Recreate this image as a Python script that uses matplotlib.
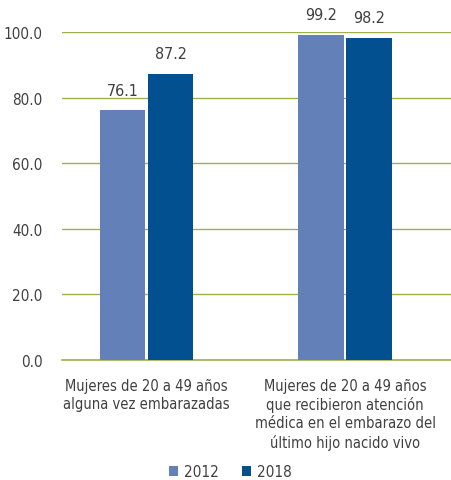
import matplotlib
matplotlib.use("Agg")
import matplotlib.pyplot as plt
import numpy as np

plt.rcParams['font.family'] = ['DejaVu Sans']
plt.rcParams['font.stretch'] = 'condensed'

categories = ["Mujeres de 20 a 49 años\nalguna vez embarazadas",
              "Mujeres de 20 a 49 años\nque recibieron atención\nmédica en el embarazo del\núltimo hijo nacido vivo"]
years = ["2012", "2018"]
v2012 = [76.1, 99.2]
v2018 = [87.2, 98.2]
yticks = [0, 20, 40, 60, 80, 100]

c2012 = '#6381B8'
c2018 = '#02508F'
grid_c = '#9DB24A'
txt_c = '#404040'

fig = plt.figure(figsize=(4.52, 4.81), dpi=100)
ax = fig.add_axes([0.137, 0.2495, 0.863, 0.682])

x = np.arange(len(categories))
w = 0.227
off = 0.121
b1 = ax.bar(x - off, v2012, w, color=c2012, label=years[0], zorder=2)
b2 = ax.bar(x + off, v2018, w, color=c2018, label=years[1], zorder=2)

for bars, vals in ((b1, v2012), (b2, v2018)):
    for r, v in zip(bars, vals):
        ax.annotate(f"{v:.1f}", (r.get_x() + r.get_width() / 2, v),
                    xytext=(0, 9), textcoords='offset points',
                    ha='center', va='bottom', fontsize=11.5, color=txt_c)

ax.set_xlim(-0.426, 1.539)
ax.set_ylim(0, 100)
ax.set_yticks(yticks)
ax.set_yticklabels([f"{t:.1f}" for t in yticks], fontsize=11, color=txt_c)
ax.set_xticks(x)
ax.set_xticklabels(categories, fontsize=10.5, color=txt_c, linespacing=1.25)
ax.tick_params(axis='x', length=0, pad=13)
ax.tick_params(axis='y', length=0, pad=14)
ax.yaxis.grid(True, color=grid_c, linewidth=1, zorder=0)
ax.axhline(0, color=grid_c, linewidth=1.2, clip_on=False, zorder=1)
ax.set_axisbelow(True)
for s in ax.spines.values():
    s.set_visible(False)

fig.legend(handles=[b1, b2], labels=years, loc='center', bbox_to_anchor=(0.51, 0.017),
           ncol=2, frameon=False, fontsize=11, handlelength=0.6, handleheight=0.6,
           columnspacing=1.5, handletextpad=0.4, labelcolor=txt_c)

fig.savefig("out.png", dpi=100)
